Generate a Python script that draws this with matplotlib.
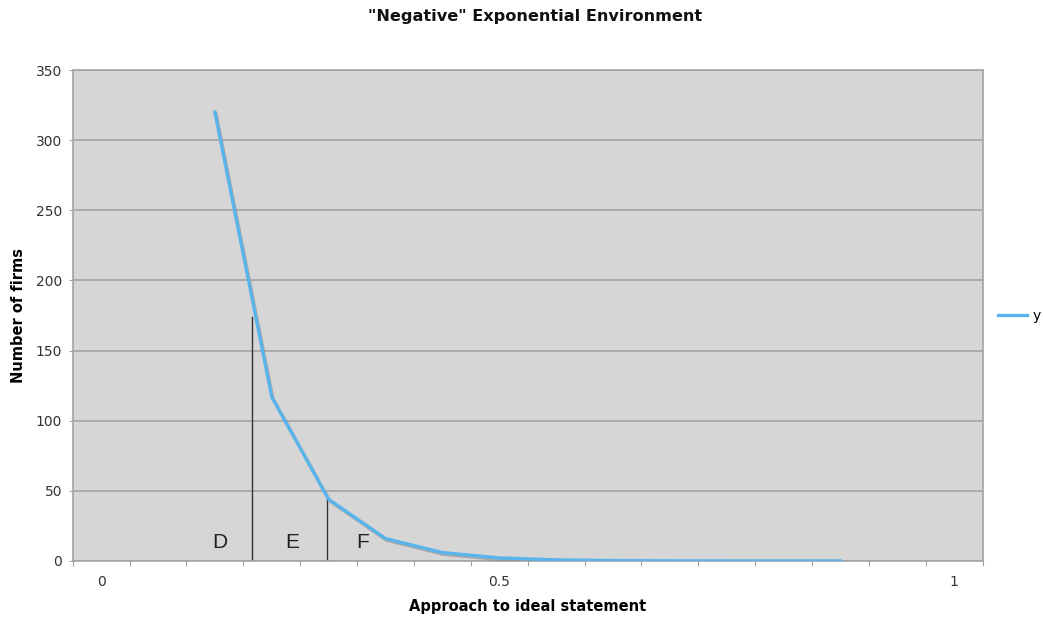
import matplotlib
matplotlib.use("Agg")
import matplotlib.pyplot as plt
import matplotlib.patheffects as pe

# category positions (the axis is a category axis, one slot per step)
categories = list(range(16))
point_cats = [2, 3, 4, 5, 6, 7, 8, 9, 10, 11, 12, 13]
y_values = [320, 117, 44, 16, 6, 2.2, 0.8, 0.3, 0.1, 0.04, 0.015, 0.005]
tick_labels = {0: "0", 7: "0.5", 15: "1"}

# hand drawn band borders and letters
border_x = [2.65, 3.97]
border_top = [174, 45]
band_letters = ["D", "E", "F"]
letter_x = [2.09, 3.36, 4.6]
letter_y = 13

fig = plt.figure(figsize=(10.43, 6.19), dpi=100)
ax = fig.add_axes([0.0697, 0.0937, 0.8725, 0.7932])
ax.set_facecolor("#d6d6d6")

ax.set_xlim(-0.5, 15.5)
ax.set_ylim(0, 350)

ax.set_yticks(range(0, 351, 50))
ax.yaxis.grid(True, color="#a3a3a3", linewidth=1.2)
ax.set_axisbelow(True)

ax.set_xticks([c - 0.5 for c in categories] + [15.5])
ax.set_xticklabels([])
ax.set_xticks(list(tick_labels.keys()), minor=True)
ax.set_xticklabels(list(tick_labels.values()), minor=True)
ax.tick_params(axis="x", which="major", length=3.6, color="#a3a3a3")
ax.tick_params(axis="x", which="minor", length=0, pad=10, labelsize=10, labelcolor="#333333")
ax.tick_params(axis="y", length=3, color="#a3a3a3", labelsize=10, labelcolor="#333333", pad=4.5)

for s in ax.spines.values():
    s.set_color("#a3a3a3")
    s.set_linewidth(1.2)

line, = ax.plot(point_cats, y_values, color="#5ab4ec", linewidth=2.4, label="y",
                solid_joinstyle="round", zorder=3)
line.set_path_effects([pe.SimpleLineShadow(offset=(0.8, -1.2), shadow_color="#8a8a8a", alpha=0.6),
                       pe.Normal()])

for bx, bt in zip(border_x, border_top):
    ax.plot([bx, bx], [0, bt], color="#333333", linewidth=1.0, zorder=2)

for lx, letter in zip(letter_x, band_letters):
    ax.text(lx, letter_y, letter, fontsize=15, ha="center", va="center", color="#222222",
            family="Liberation Sans")

fig.text(535 / 1043, 1 - 17 / 619, '"Negative" Exponential Environment', ha="center", va="center",
         fontsize=11.6, fontweight="bold", color="#111111")
ax.set_xlabel("Approach to ideal statement", fontsize=10.5, fontweight="bold", labelpad=7.5)
ax.set_ylabel("Number of firms", fontsize=10.5, fontweight="bold", labelpad=7)

leg_line, = ax.plot([], [], color="#5ab4ec", linewidth=2.4)
fig.legend(handles=[leg_line], labels=["y"], loc="center left",
           bbox_to_anchor=(998 / 1043, 1 - 316 / 619), frameon=False, fontsize=10,
           handlelength=2.1, handletextpad=0.4, borderpad=0, borderaxespad=0)

fig.savefig("out.png", dpi=100, facecolor="white")
